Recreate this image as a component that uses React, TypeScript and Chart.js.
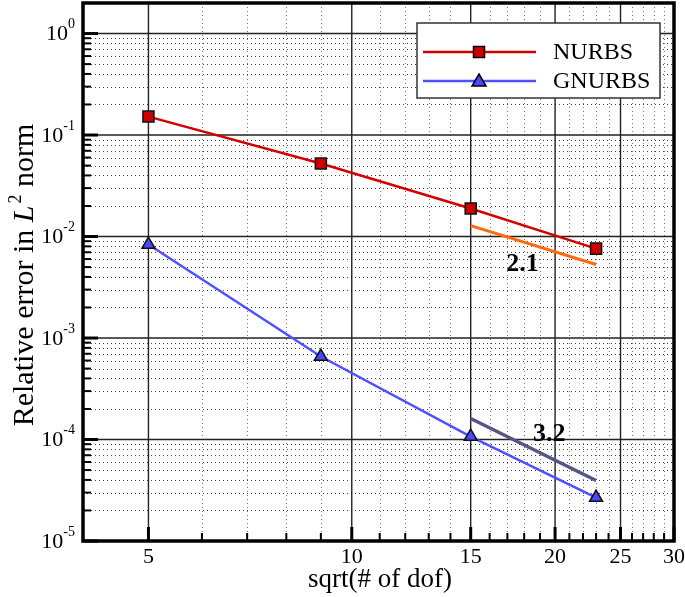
import React, { useEffect, useRef } from "react";
import { Chart, registerables } from "chart.js";

Chart.register(...registerables);

// ---- data ----
const xValues = [5, 9, 15, 23];
const nurbsErr = [0.152, 0.0524, 0.0189, 0.0076];
const gnurbsErr = [0.00834, 0.000657, 0.000107, 0.0000268];
const slopeX = [15, 23];
const slope21 = [0.0128, 0.0053];
const slope32 = [0.000161, 0.0000395];
const slopeLabels = ["2.1", "3.2"];
const slopeLabelPos = [
  { x: 17.9, y: 0.0053 },
  { x: 19.6, y: 0.000113 },
];
const xMajorTicks = [5, 10, 15, 20, 25, 30];
const xMinorTicks = [6, 7, 8, 9, 11, 12, 13, 14, 16, 17, 18, 19, 21, 22, 23, 24, 26, 27, 28, 29];
const yExponents = [0, -1, -2, -3, -4, -5];
const yMinorMultipliers = [2, 3, 4, 5, 6, 7, 8, 9];
const seriesNames = ["NURBS", "GNURBS"];

const SERIF = '"Liberation Serif", "Times New Roman", serif';

const customPlugin = {
  id: "custom",
  beforeDatasetsDraw(chart: any) {
    const { ctx, chartArea } = chart;
    const xs = chart.scales.x;
    const ys = chart.scales.y;
    const { left, right, top, bottom } = chartArea;
    ctx.save();
    ctx.beginPath();
    ctx.rect(left, top, right - left, bottom - top);
    ctx.clip();
    // minor horizontal dotted
    ctx.setLineDash([1, 3]);
    ctx.lineWidth = 1;
    ctx.strokeStyle = "#444";
    for (const e of yExponents) {
      for (const m of yMinorMultipliers) {
        const v = m * Math.pow(10, e);
        if (v >= ys.max) continue;
        const y = Math.round(ys.getPixelForValue(v)) + 0.5;
        ctx.beginPath();
        ctx.moveTo(left, y);
        ctx.lineTo(right, y);
        ctx.stroke();
      }
    }
    // minor vertical dotted
    ctx.strokeStyle = "#777";
    for (const v of xMinorTicks) {
      const x = Math.round(xs.getPixelForValue(v)) + 0.5;
      ctx.beginPath();
      ctx.moveTo(x, top);
      ctx.lineTo(x, bottom);
      ctx.stroke();
    }
    // major
    ctx.setLineDash([]);
    ctx.lineWidth = 1.4;
    ctx.strokeStyle = "#222";
    for (const e of yExponents) {
      const y = ys.getPixelForValue(Math.pow(10, e));
      ctx.beginPath();
      ctx.moveTo(left, y);
      ctx.lineTo(right, y);
      ctx.stroke();
    }
    for (const v of xMajorTicks) {
      const x = xs.getPixelForValue(v);
      ctx.beginPath();
      ctx.moveTo(x, top);
      ctx.lineTo(x, bottom);
      ctx.stroke();
    }
    ctx.restore();
  },
  afterDraw(chart: any) {
    const { ctx, chartArea } = chart;
    const xs = chart.scales.x;
    const ys = chart.scales.y;
    const { left, right, top, bottom } = chartArea;
    ctx.save();
    ctx.setLineDash([]);
    ctx.strokeStyle = "#000";
    // ticks left
    for (const e of yExponents) {
      const y = ys.getPixelForValue(Math.pow(10, e));
      ctx.lineWidth = 3;
      ctx.beginPath();
      ctx.moveTo(left, y);
      ctx.lineTo(left + 15, y);
      ctx.stroke();
      for (const m of yMinorMultipliers) {
        const v = m * Math.pow(10, e);
        if (v >= ys.max) continue;
        const yy = ys.getPixelForValue(v);
        ctx.lineWidth = 2;
        ctx.beginPath();
        ctx.moveTo(left, yy);
        ctx.lineTo(left + 8, yy);
        ctx.stroke();
      }
    }
    // ticks bottom
    for (const v of xMajorTicks) {
      const x = xs.getPixelForValue(v);
      ctx.lineWidth = 3;
      ctx.beginPath();
      ctx.moveTo(x, bottom);
      ctx.lineTo(x, bottom - 14);
      ctx.stroke();
    }
    for (const v of xMinorTicks) {
      const x = xs.getPixelForValue(v);
      ctx.lineWidth = 2;
      ctx.beginPath();
      ctx.moveTo(x, bottom);
      ctx.lineTo(x, bottom - 8);
      ctx.stroke();
    }
    // border
    ctx.lineWidth = 3.5;
    ctx.strokeRect(left, top, right - left, bottom - top);

    // tick labels
    ctx.fillStyle = "#000";
    ctx.textBaseline = "middle";
    for (const e of yExponents) {
      const y = ys.getPixelForValue(Math.pow(10, e));
      ctx.font = `14px ${SERIF}`;
      const sup = String(e);
      const supW = ctx.measureText(sup).width;
      const endX = left - 8;
      ctx.textAlign = "left";
      ctx.fillText(sup, endX - supW, y - 9);
      ctx.font = `22px ${SERIF}`;
      ctx.textAlign = "right";
      ctx.fillText("10", endX - supW, y + 1);
    }
    ctx.font = `22px ${SERIF}`;
    ctx.textAlign = "center";
    ctx.textBaseline = "top";
    for (const v of xMajorTicks) {
      const x = xs.getPixelForValue(v);
      ctx.fillText(String(v), x, bottom + 5);
    }
    // x title
    ctx.font = `27px ${SERIF}`;
    ctx.textBaseline = "alphabetic";
    ctx.fillText("sqrt(# of dof)", 380, 587);

    // y title
    const parts = [
      { t: "Relative error in ", f: `30px ${SERIF}`, dy: 0 },
      { t: "L", f: `italic 30px ${SERIF}`, dy: 0 },
      { t: "2", f: `18px ${SERIF}`, dy: -12 },
      { t: " norm", f: `30px ${SERIF}`, dy: 0 },
    ];
    let total = 0;
    for (const p of parts) {
      ctx.font = p.f;
      total += ctx.measureText(p.t).width;
    }
    ctx.save();
    ctx.translate(33, 276);
    ctx.rotate(-Math.PI / 2);
    ctx.textAlign = "left";
    let cx = -total / 2;
    for (const p of parts) {
      ctx.font = p.f;
      ctx.fillText(p.t, cx, p.dy);
      cx += ctx.measureText(p.t).width + (p.t === "L" ? 2 : 0);
    }
    ctx.restore();

    // slope labels
    ctx.font = `bold 26px ${SERIF}`;
    ctx.textAlign = "center";
    ctx.textBaseline = "middle";
    slopeLabels.forEach((s, i) => {
      ctx.fillText(s, xs.getPixelForValue(slopeLabelPos[i].x), ys.getPixelForValue(slopeLabelPos[i].y));
    });

    // legend
    const lx = 417, ly = 23, lw = 243, lh = 75;
    ctx.fillStyle = "#fff";
    ctx.fillRect(lx, ly, lw, lh);
    ctx.strokeStyle = "#333";
    ctx.lineWidth = 1.5;
    ctx.strokeRect(lx, ly, lw, lh);
    const ds = chart.data.datasets;
    [0, 1].forEach((i) => {
      const d = ds[i];
      const y = ly + 29 + i * 29;
      ctx.strokeStyle = d.borderColor;
      ctx.lineWidth = d.borderWidth;
      ctx.beginPath();
      ctx.moveTo(lx + 6, y);
      ctx.lineTo(lx + 119, y);
      ctx.stroke();
      ctx.fillStyle = d.pointBackgroundColor;
      ctx.strokeStyle = "#000";
      ctx.lineWidth = 1.5;
      const mx = lx + 62;
      if (i === 0) {
        ctx.fillRect(mx - 5.5, y - 5.5, 11, 11);
        ctx.strokeRect(mx - 5.5, y - 5.5, 11, 11);
      } else {
        ctx.beginPath();
        ctx.moveTo(mx, y - 7);
        ctx.lineTo(mx + 7, y + 5);
        ctx.lineTo(mx - 7, y + 5);
        ctx.closePath();
        ctx.fill();
        ctx.stroke();
      }
      ctx.fillStyle = "#000";
      ctx.font = `24px ${SERIF}`;
      ctx.textAlign = "left";
      ctx.textBaseline = "middle";
      ctx.fillText(seriesNames[i], lx + 136, y + 1);
    });
    ctx.restore();
  },
};

export default function App() {
  const ref = useRef<HTMLCanvasElement | null>(null);
  useEffect(() => {
    document.body.style.margin = "0";
    const canvas = ref.current;
    if (!canvas) return;
    const chart = new Chart(canvas, {
      type: "line",
      data: {
        datasets: [
          {
            label: seriesNames[0],
            data: xValues.map((x, i) => ({ x, y: nurbsErr[i] })),
            borderColor: "#d40000",
            borderWidth: 2.5,
            pointStyle: "rect",
            pointRadius: 7.8,
            pointBackgroundColor: "#cc0000",
            pointBorderColor: "#111",
            pointBorderWidth: 1.5,
            order: 1,
          },
          {
            label: seriesNames[1],
            data: xValues.map((x, i) => ({ x, y: gnurbsErr[i] })),
            borderColor: "#5050ff",
            borderWidth: 2.5,
            pointStyle: "triangle",
            pointRadius: 7.5,
            pointBackgroundColor: "#4848ff",
            pointBorderColor: "#111",
            pointBorderWidth: 1.5,
            order: 1,
          },
          {
            label: "slope 2.1",
            data: slopeX.map((x, i) => ({ x, y: slope21[i] })),
            borderColor: "#ff6a10",
            borderWidth: 3,
            pointRadius: 0,
            order: 2,
          },
          {
            label: "slope 3.2",
            data: slopeX.map((x, i) => ({ x, y: slope32[i] })),
            borderColor: "#555588",
            borderWidth: 3.5,
            pointRadius: 0,
            order: 2,
          },
        ],
      },
      options: {
        responsive: false,
        animation: false,
        devicePixelRatio: 1,
        layout: { autoPadding: false, padding: { left: 83, right: 11, top: 3, bottom: 56 } },
        plugins: { legend: { display: false }, tooltip: { enabled: false } },
        elements: { line: { tension: 0 } },
        scales: {
          x: { type: "logarithmic", min: 4, max: 30, display: false },
          y: { type: "logarithmic", min: 1e-5, max: 2, display: false },
        },
      },
      plugins: [customPlugin],
    });
    return () => chart.destroy();
  }, []);
  return (
    <div style={{ width: 685, height: 597, background: "#fff" }}>
      <canvas ref={ref} width={685} height={597} style={{ display: "block" }} />
    </div>
  );
}
